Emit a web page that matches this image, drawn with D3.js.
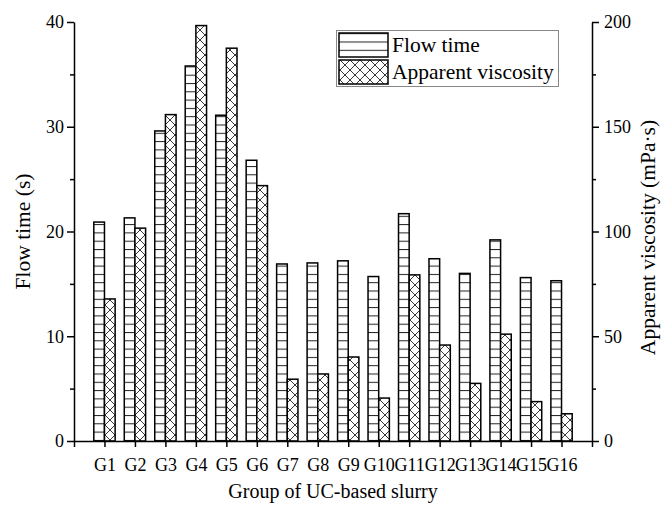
<!DOCTYPE html>
<html>
<head>
<meta charset="utf-8">
<script src="https://cdn.jsdelivr.net/npm/d3@7"></script>
<style>
  body { margin: 0; background: #fff; }
  text { font-family: "Liberation Serif", "Times New Roman", serif; fill: #000; }
</style>
</head>
<body>
<div id="vis"></div>
<script>
const FRAME_WIDTH = 662;
const FRAME_HEIGHT = 505;
const MARGINS = {left: 74, right: 70, top: 22, bottom: 64};

const VIS_WIDTH = FRAME_WIDTH - MARGINS.left - MARGINS.right;
const VIS_HEIGHT = FRAME_HEIGHT - MARGINS.top - MARGINS.bottom;

// data
const groups = ["G1","G2","G3","G4","G5","G6","G7","G8","G9","G10","G11","G12","G13","G14","G15","G16"];
const flowTime = [20.9, 21.3, 29.6, 35.8, 31.1, 26.8, 16.9, 17.0, 17.2, 15.7, 21.7, 17.4, 16.0, 19.2, 15.6, 15.3];
const viscosity = [67.8, 101.6, 155.8, 198.3, 187.5, 121.9, 29.5, 32.0, 40.1, 20.5, 79.3, 45.8, 27.5, 51.0, 18.8, 13.0];
const leftTicks = [0, 10, 20, 30, 40];
const rightTicks = [0, 50, 100, 150, 200];

const FRAME = d3.select("#vis")
                  .append("svg")
                    .attr("width", FRAME_WIDTH)
                    .attr("height", FRAME_HEIGHT);

// hatch patterns
const defs = FRAME.append("defs");
const hp = defs.append("pattern")
    .attr("id", "hlines")
    .attr("patternUnits", "userSpaceOnUse")
    .attr("width", 10).attr("height", 8.3);
hp.append("rect").attr("width", 10).attr("height", 8.3).attr("fill", "#fff");
hp.append("line").attr("x1", 0).attr("x2", 10).attr("y1", 0.5).attr("y2", 0.5)
    .attr("stroke", "#222").attr("stroke-width", 1);

const xp = defs.append("pattern")
    .attr("id", "cross")
    .attr("patternUnits", "userSpaceOnUse")
    .attr("width", 10).attr("height", 10);
xp.append("rect").attr("width", 10).attr("height", 10).attr("fill", "#fff");
xp.append("path").attr("d", "M0,0L10,10M10,0L0,10")
    .attr("stroke", "#222").attr("stroke-width", 0.9).attr("fill", "none");

// scales
const X_SCALE = d3.scaleLinear()
                  .domain([0, groups.length + 1])
                  .range([MARGINS.left, MARGINS.left + VIS_WIDTH]);
const Y_LEFT = d3.scaleLinear()
                  .domain([0, 40])
                  .range([MARGINS.top + VIS_HEIGHT, MARGINS.top]);
const Y_RIGHT = d3.scaleLinear()
                  .domain([0, 200])
                  .range([MARGINS.top + VIS_HEIGHT, MARGINS.top]);

const BAR_W = X_SCALE(0.35) - X_SCALE(0);

// bars
FRAME.selectAll(".flow")
      .data(flowTime)
      .enter()
      .append("rect")
        .attr("class", "flow")
        .attr("x", (d, i) => X_SCALE(i + 1) - BAR_W)
        .attr("y", (d) => Y_LEFT(d))
        .attr("width", BAR_W)
        .attr("height", (d) => Y_LEFT(0) - Y_LEFT(d))
        .attr("fill", "url(#hlines)")
        .attr("stroke", "#000")
        .attr("stroke-width", 1.5);

FRAME.selectAll(".visc")
      .data(viscosity)
      .enter()
      .append("rect")
        .attr("class", "visc")
        .attr("x", (d, i) => X_SCALE(i + 1))
        .attr("y", (d) => Y_RIGHT(d))
        .attr("width", BAR_W)
        .attr("height", (d) => Y_RIGHT(0) - Y_RIGHT(d))
        .attr("fill", "url(#cross)")
        .attr("stroke", "#000")
        .attr("stroke-width", 1.5);

// axes
function styleAxis(g) {
  g.attr("font-family", null);
  g.selectAll("path, line").attr("stroke", "#000").attr("stroke-width", 1.5);
  g.selectAll("text").attr("font-size", "18px").attr("fill", "#000");
}

FRAME.append("g")
      .attr("transform", "translate(" + MARGINS.left + ",0)")
      .call(d3.axisLeft(Y_LEFT).tickValues(leftTicks).tickSize(7).tickSizeOuter(0).tickPadding(3))
      .call(styleAxis);
FRAME.append("g")
      .attr("transform", "translate(" + MARGINS.left + ",0)")
      .call(d3.axisLeft(Y_LEFT).tickValues([5, 15, 25, 35]).tickSize(4).tickFormat(""))
      .call(styleAxis)
      .select(".domain").remove();

FRAME.append("g")
      .attr("transform", "translate(" + (MARGINS.left + VIS_WIDTH) + ",0)")
      .call(d3.axisRight(Y_RIGHT).tickValues(rightTicks).tickSize(7).tickSizeOuter(0).tickPadding(5))
      .call(styleAxis);
FRAME.append("g")
      .attr("transform", "translate(" + (MARGINS.left + VIS_WIDTH) + ",0)")
      .call(d3.axisRight(Y_RIGHT).tickValues([25, 75, 125, 175]).tickSize(4).tickFormat(""))
      .call(styleAxis)
      .select(".domain").remove();

FRAME.append("g")
      .attr("transform", "translate(0," + (MARGINS.top + VIS_HEIGHT) + ")")
      .call(d3.axisBottom(X_SCALE)
              .tickValues(d3.range(0, groups.length + 2))
              .tickSize(6).tickSizeOuter(0).tickPadding(11)
              .tickFormat((d) => (d >= 1 && d <= groups.length) ? groups[d - 1] : ""))
      .call(styleAxis);

// axis titles
FRAME.append("text")
      .attr("transform", "translate(22," + (MARGINS.top + VIS_HEIGHT / 2) + ") rotate(-90)")
      .attr("text-anchor", "middle")
      .attr("dy", "0.35em")
      .attr("font-size", "21.5px")
      .text("Flow time (s)");

FRAME.append("text")
      .attr("transform", "translate(647," + (MARGINS.top + VIS_HEIGHT / 2 + 6) + ") rotate(-90)")
      .attr("text-anchor", "middle")
      .attr("dy", "0.35em")
      .attr("font-size", "21.5px")
      .text("Apparent viscosity (mPa·s)");

FRAME.append("text")
      .attr("x", MARGINS.left + VIS_WIDTH / 2)
      .attr("y", 498)
      .attr("text-anchor", "middle")
      .attr("font-size", "20px")
      .text("Group of UC-based slurry");

// legend
const legend = FRAME.append("g");
legend.append("rect")
      .attr("x", 336.5).attr("y", 30.5)
      .attr("width", 222).attr("height", 56)
      .attr("fill", "#fff")
      .attr("stroke", "#888")
      .attr("stroke-width", 1);

const legendItems = [
  {label: "Flow time", fill: "url(#hlines)"},
  {label: "Apparent viscosity", fill: "url(#cross)"}
];
legend.selectAll(".sw")
      .data(legendItems)
      .enter()
      .append("rect")
        .attr("class", "sw")
        .attr("x", 339)
        .attr("y", (d, i) => 33 + i * 27)
        .attr("width", 49)
        .attr("height", 24)
        .attr("fill", (d) => d.fill)
        .attr("stroke", "#000")
        .attr("stroke-width", 1.5);
legend.selectAll(".lt")
      .data(legendItems)
      .enter()
      .append("text")
        .attr("class", "lt")
        .attr("x", 392)
        .attr("y", (d, i) => 52 + i * 27)
        .attr("font-size", "21.5px")
        .text((d) => d.label);
</script>
</body>
</html>
